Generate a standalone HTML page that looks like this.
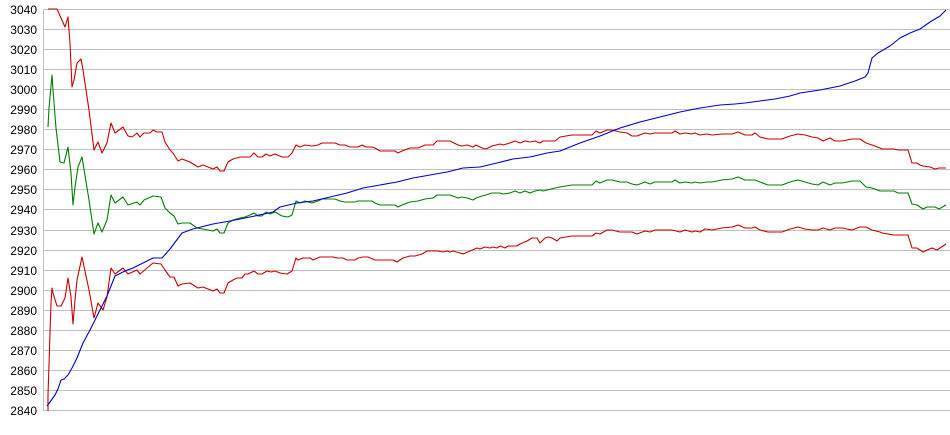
<!DOCTYPE html>
<html><head><meta charset="utf-8"><style>
html,body{margin:0;padding:0;background:#fff;}
svg{display:block;}
text{font-family:"Liberation Sans",Arial,sans-serif;font-size:12px;fill:#000;}
</style></head><body>
<svg width="950" height="435" viewBox="0 0 950 435" xmlns="http://www.w3.org/2000/svg">
<g stroke="#c0c0c0" stroke-width="1" shape-rendering="crispEdges">
<line x1="43" y1="9.5" x2="950" y2="9.5"/><line x1="43" y1="29.5" x2="950" y2="29.5"/><line x1="43" y1="49.5" x2="950" y2="49.5"/><line x1="43" y1="69.5" x2="950" y2="69.5"/><line x1="43" y1="89.5" x2="950" y2="89.5"/><line x1="43" y1="109.5" x2="950" y2="109.5"/><line x1="43" y1="129.5" x2="950" y2="129.5"/><line x1="43" y1="149.5" x2="950" y2="149.5"/><line x1="43" y1="169.5" x2="950" y2="169.5"/><line x1="43" y1="189.5" x2="950" y2="189.5"/><line x1="43" y1="209.5" x2="950" y2="209.5"/><line x1="43" y1="230.5" x2="950" y2="230.5"/><line x1="43" y1="250.5" x2="950" y2="250.5"/><line x1="43" y1="270.5" x2="950" y2="270.5"/><line x1="43" y1="290.5" x2="950" y2="290.5"/><line x1="43" y1="310.5" x2="950" y2="310.5"/><line x1="43" y1="330.5" x2="950" y2="330.5"/><line x1="43" y1="350.5" x2="950" y2="350.5"/><line x1="43" y1="370.5" x2="950" y2="370.5"/><line x1="43" y1="390.5" x2="950" y2="390.5"/><line x1="43" y1="410.5" x2="950" y2="410.5"/>
<line x1="43.5" y1="9" x2="43.5" y2="411"/>
</g>
<g text-anchor="end">
<text x="37" y="14">3040</text><text x="37" y="34">3030</text><text x="37" y="54">3020</text><text x="37" y="74">3010</text><text x="37" y="94">3000</text><text x="37" y="114">2990</text><text x="37" y="134">2980</text><text x="37" y="154">2970</text><text x="37" y="174">2960</text><text x="37" y="194">2950</text><text x="37" y="214">2940</text><text x="37" y="235">2930</text><text x="37" y="255">2920</text><text x="37" y="275">2910</text><text x="37" y="295">2900</text><text x="37" y="315">2890</text><text x="37" y="335">2880</text><text x="37" y="355">2870</text><text x="37" y="375">2860</text><text x="37" y="395">2850</text><text x="37" y="415">2840</text>
</g>
<g fill="none" stroke-width="1.1" stroke-linejoin="round">
<polyline stroke="#cc0000" points="48,9 57,9 65,27 68,17 70,43 72,87 74,80 77,63 81,59 83,70 89,110 94,150 98,142 102,153 107,143 111,123 115,133 123,127 128,136 132,137 137,133 140,137 144,133 150,133 153,130 157,132 162,132 165,142 170,150 173,153 178,161 182,159 190,162 198,167 203,165 208,167 213,169 217,167 220,171 224,171 228,162 233,159 240,157 250,157 254,153 258,157 262,157 266,154 270,156 275,154 282,157 288,157 292,153 296,145 300,147 305,145 312,146 318,145 322,143 335,143 340,145 345,145 350,147 358,147 362,145 366,147 372,147 375,148 380,151 395,151 398,153 402,151 410,148 418,148 425,145 433,145 437,141 450,141 458,145 462,146 467,145 473,147 476,145 482,148 486,149 492,146 500,144 503,145 510,143 515,141 520,143 525,141 530,142 535,141 540,143 543,141 555,141 560,137 572,135 592,135 596,131 600,133 607,130 612,130 620,132 627,133 632,136 637,136 645,133 650,134 655,133 672,133 675,131 680,134 685,133 692,134 695,133 700,135 707,134 712,135 722,134 732,134 738,132 745,135 752,135 755,133 760,137 768,139 782,139 790,136 798,134 805,135 812,137 818,138 823,141 830,138 835,141 842,141 852,139 860,139 866,143 872,145 880,148 882,149 894,149 898,150 908,150 912,163 917,163 920,165 923,166 930,167 935,169 939,168 946,168"/>
<polyline stroke="#008000" points="48,127 49,108 52,75 53,90 56,128 60,162 64,163 68,147 71,173 73,205 75,187 78,167 82,157 89,200 94,234 98,223 102,232 107,220 111,195 115,203 123,197 128,205 137,202 140,205 144,200 153,196 161,197 165,208 170,213 174,216 178,224 182,223 190,223 197,228 203,229 213,231 217,229 220,233 224,233 228,223 233,220 240,218 245,217 250,215 254,213 258,216 262,216 266,212 270,214 275,212 282,216 288,217 292,215 296,201 300,203 305,201 312,203 318,201 322,199 335,199 340,201 345,202 355,202 358,201 372,201 375,203 380,205 395,205 398,207 402,205 410,202 418,201 425,199 433,198 437,195 450,195 458,198 462,197 467,198 473,200 476,198 482,196 486,195 492,193 500,193 503,194 510,193 515,191 520,193 525,191 530,193 535,191 540,190 543,191 555,188 560,187 572,185 592,185 596,181 600,183 607,180 612,180 620,182 627,182 632,184 637,185 645,182 650,184 655,182 672,182 675,180 680,183 685,182 692,183 695,182 700,183 707,182 712,182 722,180 732,179 738,177 745,180 755,180 760,182 768,185 782,185 790,182 798,180 805,182 812,184 818,185 823,182 830,185 835,183 842,183 852,181 860,181 866,187 872,188 880,191 894,191 898,193 908,193 912,204 917,205 920,207 923,209 927,207 935,207 939,209 946,205"/>
<polyline stroke="#cc0000" points="48,411 48,395 49,365 50,333 51,303 52,288 53,293 57,306 61,306 65,298 68,278 71,297 73,324 75,300 77,280 82,257 89,290 94,318 98,303 103,310 107,297 111,268 115,274 123,268 128,274 137,270 140,274 153,263 161,264 165,270 170,277 174,277 178,286 182,284 190,283 198,288 203,287 213,291 217,289 220,293 224,293 228,283 233,280 237,278 242,278 245,274 248,274 254,271 258,274 262,274 267,271 271,272 275,271 280,273 287,274 292,271 296,258 298,260 303,258 310,258 313,260 320,257 333,257 337,258 343,258 347,260 355,260 358,258 363,257 368,257 375,260 393,260 397,262 403,258 410,256 415,256 422,254 427,251 438,251 443,252 447,251 450,252 453,251 460,253 463,254 470,251 477,248 480,249 485,247 490,248 493,247 497,248 500,246 505,248 508,246 517,246 520,244 527,241 532,238 537,238 540,243 545,238 548,237 552,238 557,241 560,238 572,236 592,236 596,233 600,234 607,230 612,230 620,232 632,232 637,234 645,231 650,232 655,230 672,230 680,232 685,230 692,232 695,231 700,232 705,229 712,230 722,228 732,227 738,225 745,228 752,228 755,227 760,230 768,232 782,232 790,229 798,227 805,229 812,230 818,230 823,228 830,230 835,228 842,228 852,230 860,227 866,227 872,230 880,232 882,233 894,235 908,235 912,248 917,248 920,250 923,252 927,250 932,248 937,250 946,244"/>
<polyline stroke="#0000cc" points="47,406 50,402 55,395 58,389 61,380 64,379 68,375 72,368 77,358 83,343 90,330 100,310 107,296 115,276 125,271 133,268 145,262 153,258 162,258 170,249 176,241 182,233 193,229 213,224 230,221 250,217 273,212 280,207 297,203 313,201 330,197 347,193 363,188 380,185 397,182 413,178 430,175 447,172 463,168 480,167 497,163 513,159 530,157 547,153 560,151 580,143 600,136 620,128 640,122 660,117 680,112 700,108 720,105 735,104 745,103 760,101 775,99 790,96 800,93 820,90 840,86 855,81 865,77 868,73 872,58 878,53 890,46 900,38 910,33 920,29 930,22 940,16 946,10"/>
</g>
</svg>
</body></html>
